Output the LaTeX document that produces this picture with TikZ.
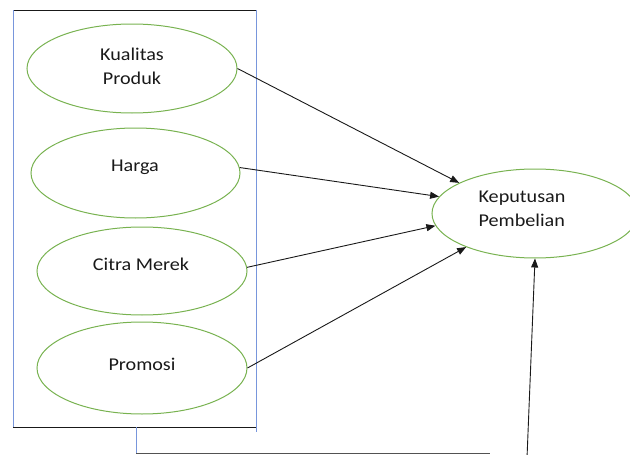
\documentclass[tikz,border=0pt]{standalone}
\usepackage{fontspec}
\setmainfont{Carlito}[FakeStretch=1.12]
\usetikzlibrary{arrows.meta,shapes.geometric}
\definecolor{ogreen}{RGB}{120,178,80}
\definecolor{oblue}{RGB}{120,150,220}
\definecolor{ink}{RGB}{25,25,25}
\tikzset{
  var/.style={ellipse, draw=ogreen, line width=1pt, inner sep=0pt},
  lbl/.style={align=center, inner sep=0pt, text=ink, font=\fontsize{18}{24}\selectfont},
  arr/.style={draw=ink, line width=0.9pt, -{Triangle[length=9pt,width=7pt]}},
  blueedge/.style={draw=oblue, line width=1pt},
  blackedge/.style={draw=ink, line width=0.9pt}
}
\begin{document}
\begin{tikzpicture}[x=1pt,y=-1pt]
\useasboundingbox (0,0) rectangle (630,455);
\clip (0,0) rectangle (630,455);
% frame
\coordinate (tl) at (13,10);
\coordinate (tr) at (256,10);
\coordinate (bl) at (13,427);
\coordinate (br) at (256,427);
\coordinate (brx) at (256,432);
\draw[blackedge] (tl) -- (tr);
\draw[blackedge] (bl) -- (br);
\draw[blueedge] (tl) -- (bl);
\draw[blueedge] (tr) -- (brx);
% ellipses
\node[var, minimum width=210pt, minimum height=89pt] (kq) at (132,68.5) {};
\node[var, minimum width=209pt, minimum height=90pt] (hg) at (135.5,173) {};
\node[var, minimum width=210pt, minimum height=88pt] (cm) at (142,271) {};
\node[var, minimum width=210pt, minimum height=92pt] (pr) at (142,368) {};
\node[var, minimum width=206pt, minimum height=89pt] (kp) at (535,213.5) {};
% texts
\node[lbl] (tkq) at (132,66) {Kualitas\\Produk};
\node[lbl] (thg) at (135,167) {Harga};
\node[lbl] (tcm) at (141,264) {Citra Merek};
\node[lbl] (tpr) at (142,364) {Promosi};
\node[lbl, align=left] (tkp) at (522,209) {Keputusan\\Pembelian};
% arrows
\draw[arr] (kq.east) -- (kp.158);
\draw[arr] (hg.3) -- (kp.170);
\draw[arr] (cm.2) -- (kp.187);
\draw[arr] (pr.east) -- (kp.206);
% bottom connector
\coordinate (c1) at (136,427);
\coordinate (c2) at (136,453);
\coordinate (c3) at (490,453);
\coordinate (b1) at (527,458);
\draw[blueedge] (c1) -- (c2);
\draw[draw=ink!75, line width=0.9pt] (c2) -- (c3);
\draw[arr] (b1) -- (kp.south);
\end{tikzpicture}
\end{document}
